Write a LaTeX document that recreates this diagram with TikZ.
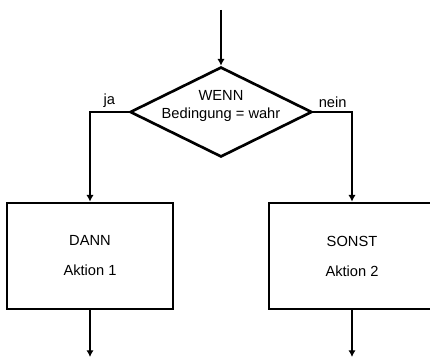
\documentclass[tikz,border=0pt]{standalone}
\usepackage{fontspec}
\setmainfont{Liberation Sans}
\usetikzlibrary{shapes.geometric, arrows.meta}

\begin{document}
\begin{tikzpicture}[x=0.75pt, y=-0.75pt,
    line width=2pt,
    font=\fontsize{11}{14}\selectfont,
    flow/.style={-{Latex[length=5pt,width=5.5pt]}},
    cond/.style={diamond, draw, inner sep=0pt, minimum width=136.5pt, minimum height=67.5pt},
    action/.style={rectangle, draw, align=center, minimum width=124.5pt, minimum height=79.5pt}]
    \clip (0,0) rectangle (430,360);

    % Bedingung
    \coordinate (ein) at (221,10);
    \node[cond] (wenn) at (221,112) {};
    \node[align=center, inner sep=0pt] (wenntext) at (221,106) {WENN\\Bedingung = wahr};

    % Zweige
    \node[action] (dann) at (90,256) {DANN\\[8.5pt]Aktion 1};
    \node[action] (sonst) at (352,256) {SONST\\[8.5pt]Aktion 2};
    \coordinate (aus1) at (90,357);
    \coordinate (aus2) at (352,357);

    % Verbindungen
    \draw[flow] (ein) -- (wenn.north);
    \draw[flow] (wenn.west) -| node[pos=0.25, above, inner sep=2pt] {ja} (dann.north);
    \draw[flow] (wenn.east) -| node[pos=0.25, above, inner sep=2pt] {nein} (sonst.north);
    \draw[flow] (dann.south) -- (aus1);
    \draw[flow] (sonst.south) -- (aus2);
\end{tikzpicture}
\end{document}
